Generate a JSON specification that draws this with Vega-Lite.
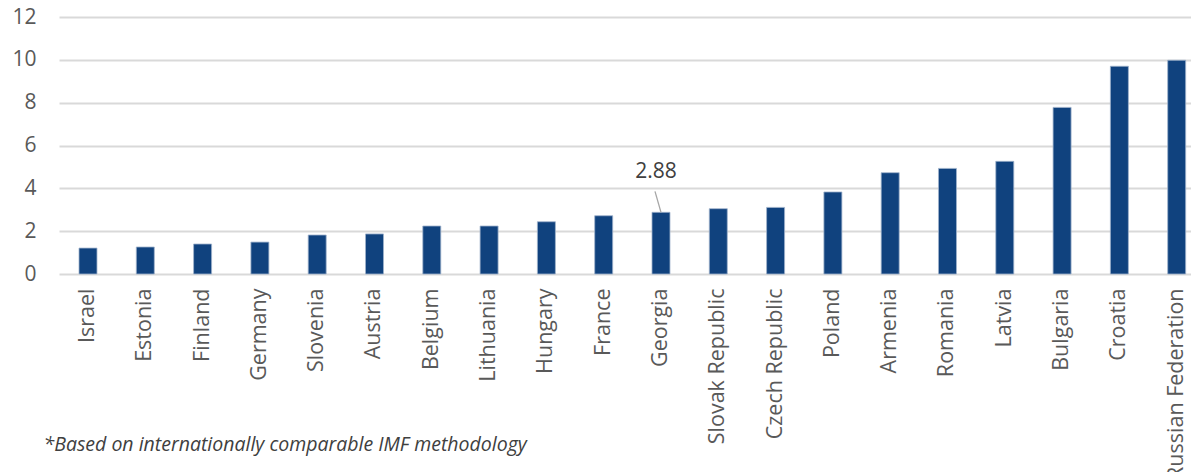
{
  "$schema": "https://vega.github.io/schema/vega-lite/v6.json",
  "autosize": {"type": "none"},
  "padding": {"left": 59, "top": 17, "right": 0, "bottom": 198},
  "width": 1132,
  "height": 257,
  "background": "white",
  "config": {
    "view": {"stroke": null},
    "font": "Open Sans"
  },
  "data": {
    "values": [
      {"country": "Israel", "value": 1.21},
      {"country": "Estonia", "value": 1.26},
      {"country": "Finland", "value": 1.40},
      {"country": "Germany", "value": 1.49},
      {"country": "Slovenia", "value": 1.82},
      {"country": "Austria", "value": 1.87},
      {"country": "Belgium", "value": 2.24},
      {"country": "Lithuania", "value": 2.24},
      {"country": "Hungary", "value": 2.44},
      {"country": "France", "value": 2.72},
      {"country": "Georgia", "value": 2.88},
      {"country": "Slovak Republic", "value": 3.05},
      {"country": "Czech Republic", "value": 3.11},
      {"country": "Poland", "value": 3.83},
      {"country": "Armenia", "value": 4.73},
      {"country": "Romania", "value": 4.93},
      {"country": "Latvia", "value": 5.26},
      {"country": "Bulgaria", "value": 7.78},
      {"country": "Croatia", "value": 9.70},
      {"country": "Russian Federation", "value": 9.98}
    ]
  },
  "encoding": {
    "x": {
      "field": "country",
      "type": "nominal",
      "sort": null,
      "scale": {"paddingInner": 0.686, "paddingOuter": 0.221, "align": 0.79},
      "axis": {
        "title": "*Based on internationally comparable IMF methodology",
        "titleFont": "Open Sans",
        "titleFontStyle": "italic",
        "titleFontWeight": "normal",
        "titleFontSize": 19.5,
        "titleColor": "#404040",
        "titleAnchor": "start",
        "titleAlign": "left",
        "titleBaseline": "middle",
        "titleX": -16,
        "titleY": 170,
        "labelAngle": -90,
        "labelAlign": "right",
        "labelBaseline": "middle",
        "labelFontSize": 21.5,
        "labelColor": "#595959",
        "labelPadding": 14,
        "labelLimit": 400,
        "labelOverlap": false,
        "labelBound": false,
        "ticks": false,
        "domain": false,
        "grid": false
      }
    },
    "y": {
      "field": "value",
      "type": "quantitative",
      "scale": {"domain": [0, 12], "nice": false},
      "axis": {
        "title": null,
        "values": [0, 2, 4, 6, 8, 10, 12],
        "labelFontSize": 21,
        "labelColor": "#595959",
        "labelPadding": 23,
        "ticks": false,
        "domain": false,
        "gridColor": "#d9d9d9",
        "gridWidth": 2
      }
    }
  },
  "layer": [
    {
      "mark": {"type": "bar", "color": "#10427e", "stroke": "#9fb2cc", "strokeWidth": 0.8}
    },
    {
      "transform": [{"filter": "datum.country === 'Georgia'"}],
      "mark": {"type": "rule", "color": "#a6a6a6", "strokeWidth": 1.3, "x2Offset": -6, "y2Offset": -21},
      "encoding": {
        "x2": {"field": "country"},
        "y2": {"field": "value"}
      }
    },
    {
      "transform": [{"filter": "datum.country === 'Georgia'"}],
      "mark": {"type": "text", "fontSize": 21, "color": "#404040", "dy": -40, "dx": -5, "baseline": "middle"},
      "encoding": {
        "text": {"field": "value", "type": "quantitative", "format": ".2f"}
      }
    }
  ]
}
